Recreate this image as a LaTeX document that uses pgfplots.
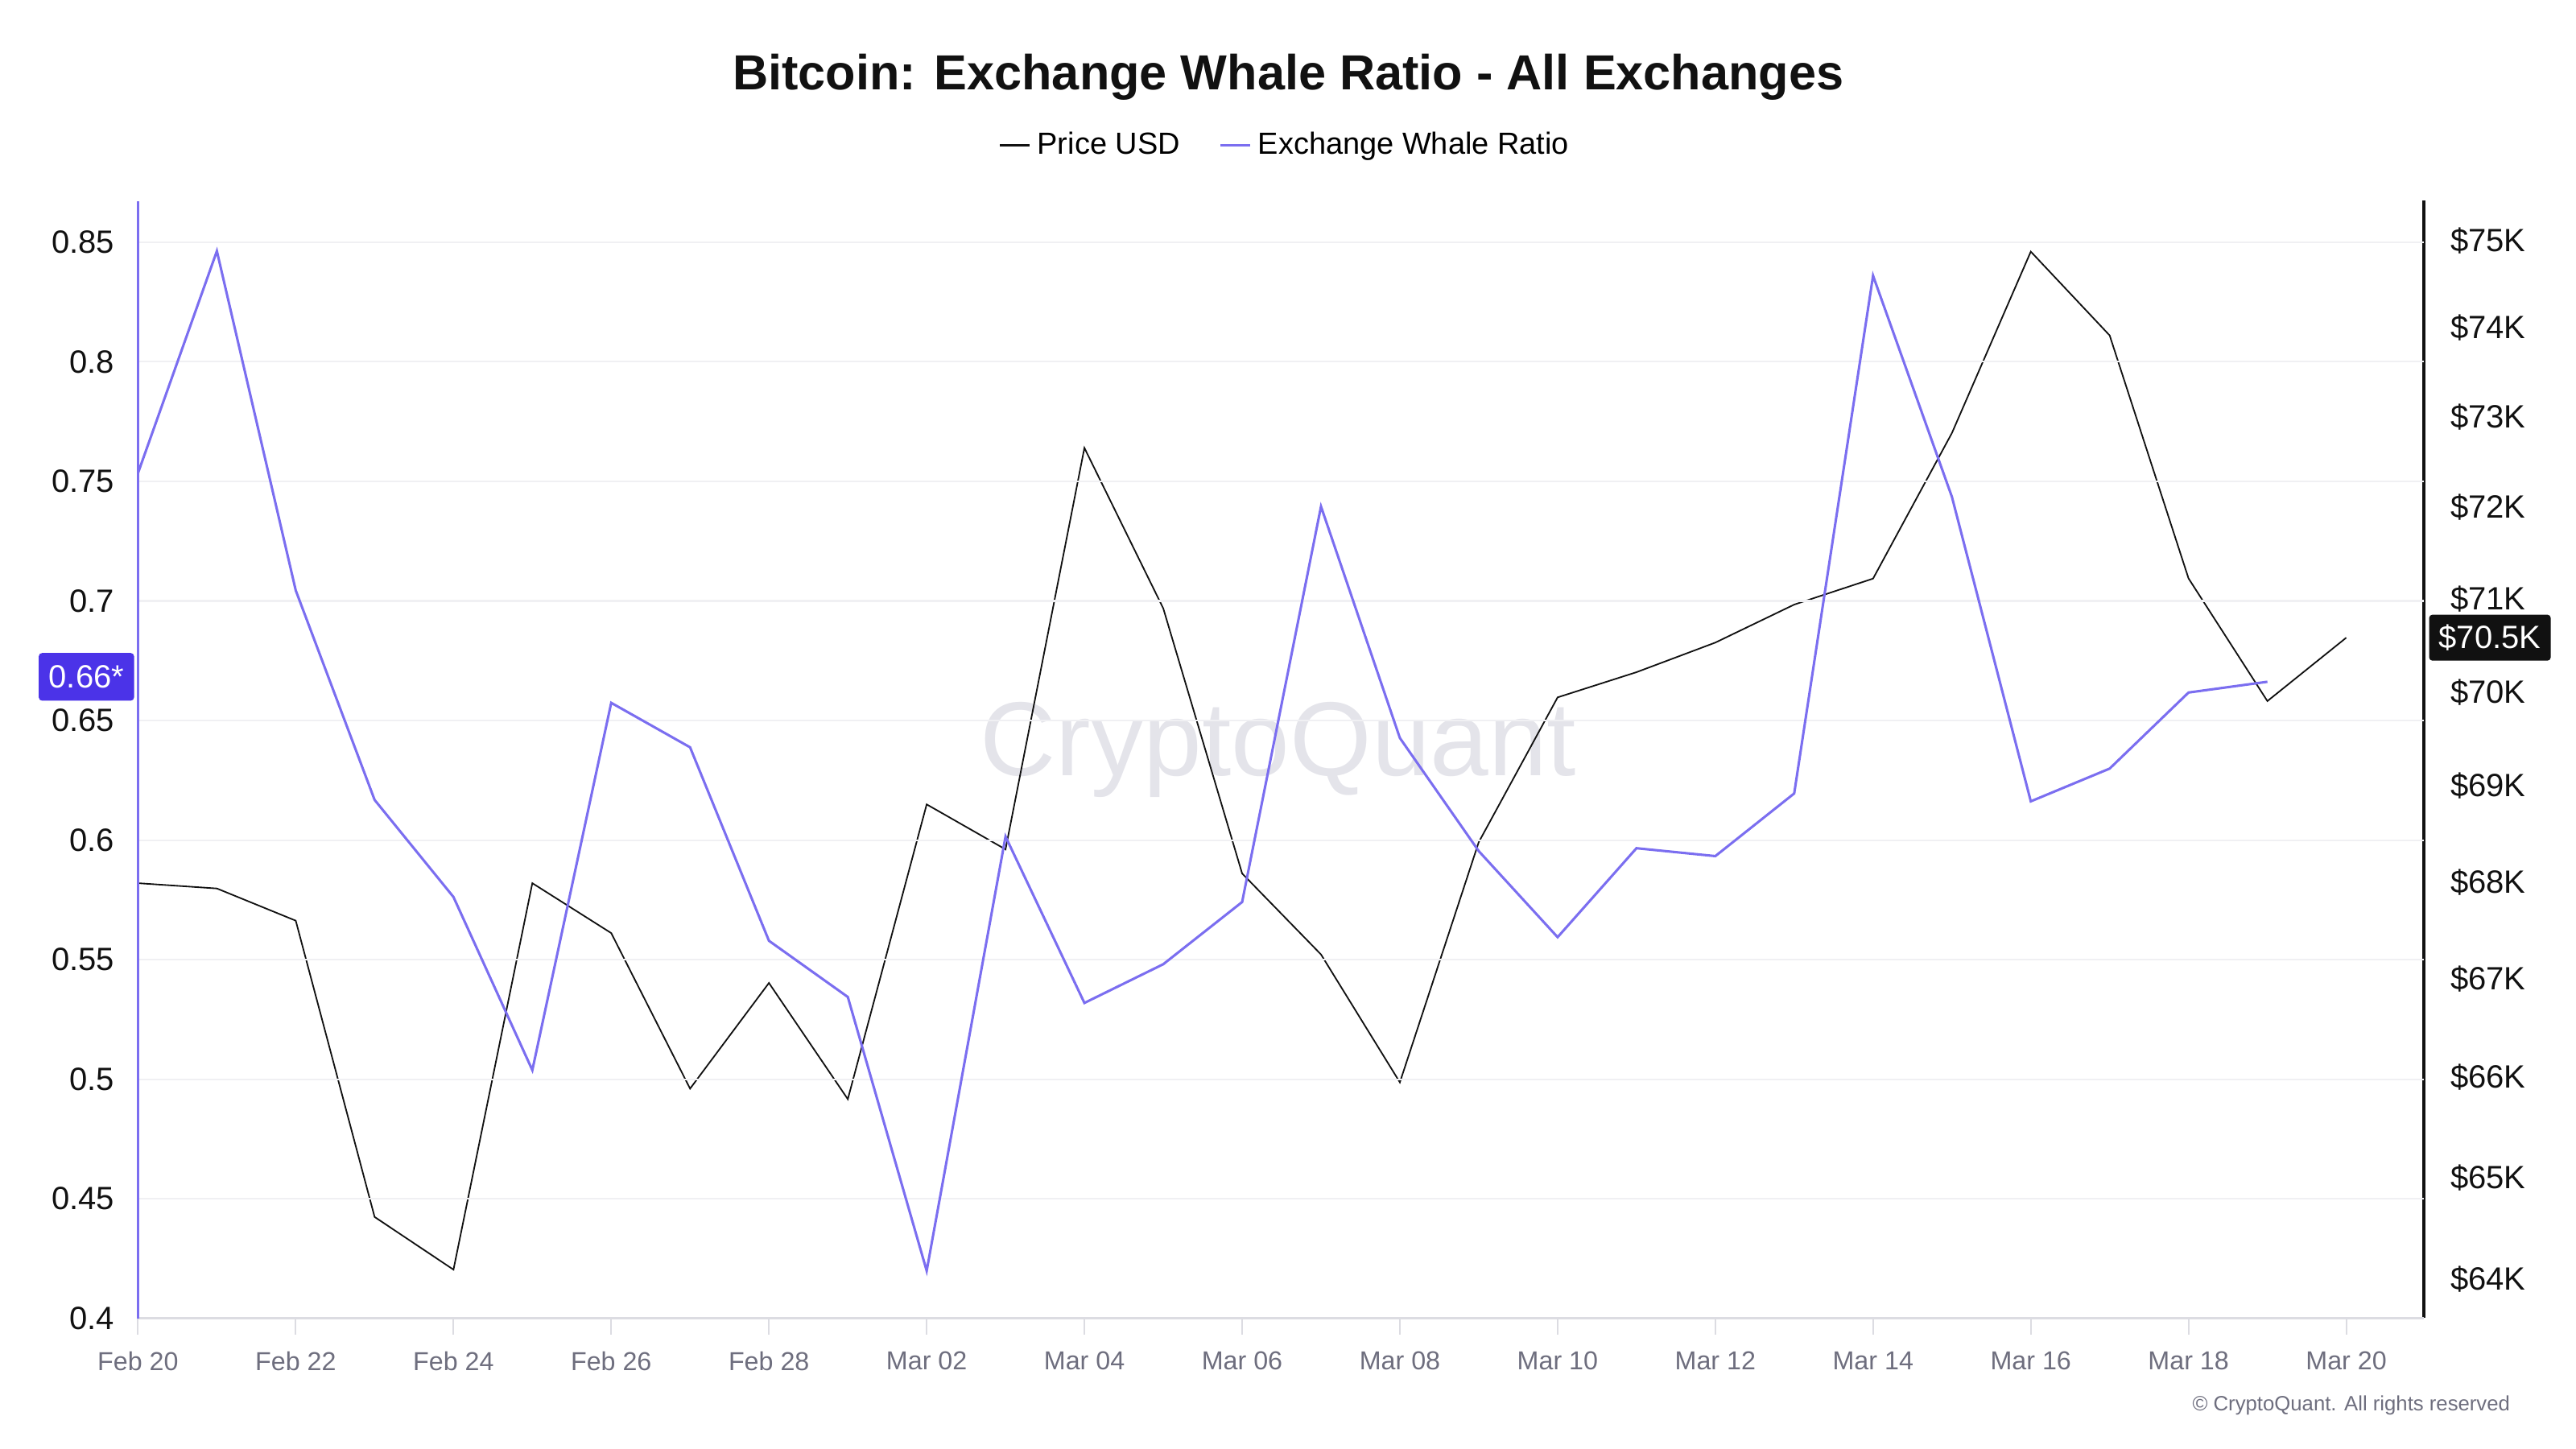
\documentclass[border=0pt]{standalone}
\usepackage{fontspec}
\setmainfont{Liberation Sans}
\usepackage{pgfplots}
\usepackage{pgfplotstable}
\pgfplotsset{compat=1.18}
\definecolor{whale}{HTML}{7B6EF0}
\definecolor{whalebox}{HTML}{4B33E8}
\definecolor{pricec}{HTML}{111111}
\definecolor{datec}{HTML}{6E6E7E}
\definecolor{gridc}{HTML}{F0F0F3}
\definecolor{wm}{HTML}{E4E4EA}
\definecolor{axgray}{HTML}{DCDCE2}

% price in thousands of USD
\pgfplotstableread{
x price
0 67.990
1 67.930
2 67.597
3 64.610
4 64.090
5 67.990
6 67.470
7 65.888
8 66.958
9 65.778
10 68.808
11 68.337
12 72.660
13 70.900
14 68.090
15 67.252
16 65.952
17 68.412
18 69.943
19 70.212
20 70.528
21 70.942
22 71.218
23 72.823
24 74.872
25 73.919
26 71.225
27 69.904
28 70.582
}\pricedata

\pgfplotstableread{
x ratio
0 0.7535
1 0.8463
2 0.7044
3 0.6168
4 0.5762
5 0.5038
6 0.6574
7 0.6388
8 0.5579
9 0.5344
10 0.4199
11 0.6015
12 0.5319
13 0.5481
14 0.5741
15 0.7395
16 0.6427
17 0.5954
18 0.5594
19 0.5966
20 0.5933
21 0.6195
22 0.8360
23 0.7435
24 0.6162
25 0.6299
26 0.6617
27 0.6662
}\whaledata

\begin{document}
\begin{tikzpicture}
\path (0pt,-0.7pt) rectangle (783.9pt,440.2pt);
\node[text=wm, font=\fontsize{32}{36}\selectfont] at (389pt,212pt) {CryptoQuant};
\node[font=\bfseries\fontsize{15}{18}\selectfont, text=pricec] at (392pt,416.8pt) {Bitcoin: Exchange Whale Ratio - All Exchanges};
\node[anchor=east, text=datec, font=\fontsize{6.3}{7.5}\selectfont, inner sep=0pt] at (764pt,12.5pt) {© CryptoQuant. All rights reserved};

% price axis (right, log)
\begin{axis}[at={(42pt,39pt)}, anchor=south west,
  width=695.5pt, height=340pt, scale only axis,
  xmin=0, xmax=28.98, ymin=63.62, ymax=75.453,
  ymode=log,
  axis y line*=right, axis x line=none,
  y axis line style={draw=pricec, line width=1pt},
  ytick={64,65,66,67,68,69,70,71,72,73,74,75},
  yticklabels={\$64K,\$65K,\$66K,\$67K,\$68K,\$69K,\$70K,\$71K,\$72K,\$73K,\$74K,\$75K},
  yminorticks=false,
  ytick style={draw=none},
  yticklabel style={font=\fontsize{9.8}{11}\selectfont, text=pricec, inner sep=0pt, xshift=8pt, anchor=west},
  clip=false,
]
\addplot[pricec, line width=0.45pt] table[x=x, y=price] {\pricedata};
\node[fill=pricec, text=white, font=\fontsize{9.8}{11}\selectfont, anchor=west, inner sep=0pt,
  minimum width=37pt, minimum height=14pt, rounded corners=1pt, xshift=1.5pt]
  at (axis cs:28.98,70.582) {\$70.5K};
\end{axis}

% whale axis (left)
\begin{axis}[at={(42pt,39pt)}, anchor=south west,
  width=695.5pt, height=340pt, scale only axis,
  xmin=0, xmax=28.98, ymin=0.4, ymax=0.8672,
  axis y line*=left, axis x line*=bottom,
  y axis line style={draw=whale, line width=0.75pt},
  x axis line style={draw=axgray, line width=0.7pt},
  xtick={0,2,...,28},
  xticklabels={Feb 20,Feb 22,Feb 24,Feb 26,Feb 28,Mar 02,Mar 04,Mar 06,Mar 08,Mar 10,Mar 12,Mar 14,Mar 16,Mar 18,Mar 20},
  ytick={0.4,0.45,0.5,0.55,0.6,0.65,0.7,0.75,0.8,0.85},
  yticklabels={0.4,0.45,0.5,0.55,0.6,0.65,0.7,0.75,0.8,0.85},
  tick align=outside, major tick length=5pt,
  xtick style={draw=axgray, line width=0.5pt},
  ytick style={draw=none},
  ymajorgrids, major grid style={draw=gridc, line width=0.5pt},
  xticklabel style={font=\fontsize{7.9}{9}\selectfont, text=datec, inner sep=0pt, yshift=-5pt},
  yticklabel style={font=\fontsize{9.8}{11}\selectfont, text=pricec, inner sep=0pt, xshift=-2pt},
  clip=false,
  legend style={at={(0.5,1)}, anchor=center, yshift=17pt, xshift=2pt, draw=none, fill=none,
    legend columns=-1, font=\fontsize{9.3}{11}\selectfont,
    /tikz/every even column/.append style={column sep=10pt}},
  legend image code/.code={\draw[#1] (0pt,0pt) -- (9pt,0pt);},
]
\addlegendimage{pricec, line width=0.6pt}
\addlegendentry{Price USD}
\addplot[whale, line width=0.75pt] table[x=x, y=ratio] {\whaledata};
\addlegendentry{Exchange Whale Ratio}
\node[fill=whalebox, text=white, font=\fontsize{9.8}{11}\selectfont, anchor=east, inner sep=0pt,
  minimum width=29pt, minimum height=14.5pt, rounded corners=1pt, xshift=-1pt, yshift=1.5pt]
  at (axis cs:0,0.6662) {0.66*};
\end{axis}
\end{tikzpicture}
\end{document}
